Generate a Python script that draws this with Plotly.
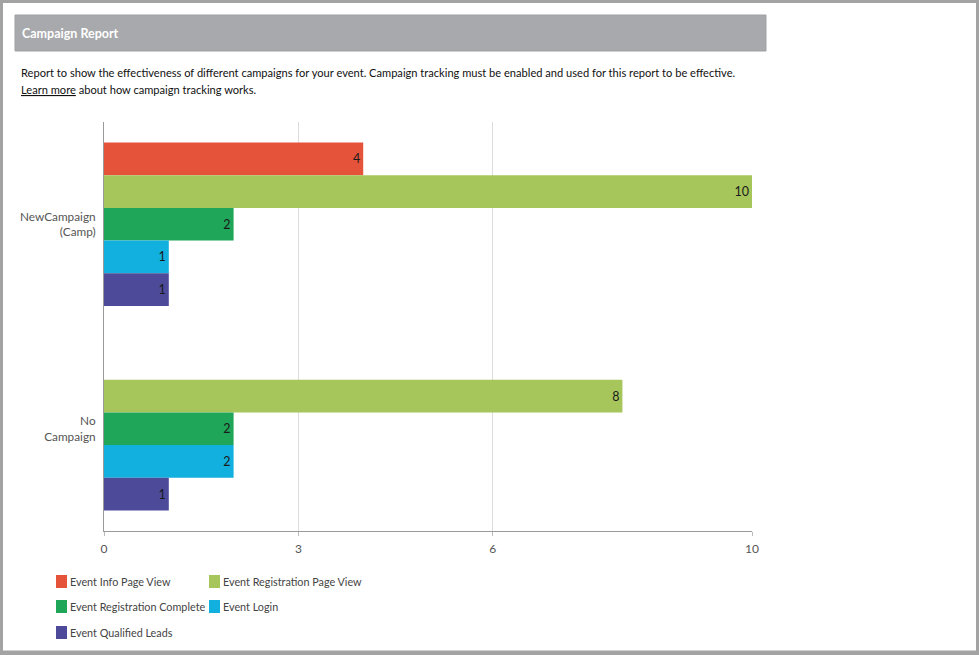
import plotly.graph_objects as go

W, H = 979, 655
L, R, T, B = 104, 752, 122, 531  # plot area in px

categories = ["NewCampaign<br>(Camp)", "No<br>Campaign"]
series_names = ["Event Info Page View", "Event Registration Page View",
                "Event Registration Complete", "Event Login", "Event Qualified Leads"]
info_page_view = [4, None]
reg_page_view = [10, 8]
reg_complete = [2, 2]
event_login = [1, 2]
qualified_leads = [1, 1]
series_values = [info_page_view, reg_page_view, reg_complete, event_login, qualified_leads]
colors = ["#e5533a", "#a6c65b", "#1fa659", "#12b0de", "#4c4a99"]
x_ticks = [0, 3, 6, 10]

FONT = "Lato, Open Sans, sans-serif"


def px(x):
    return (x - L) / (R - L)


def py(y):
    return 1 - (y - T) / (B - T)


fig = go.Figure()
for name, vals, col in zip(series_names, series_values, colors):
    fig.add_trace(go.Bar(
        y=categories, x=vals, name=name, orientation="h",
        marker=dict(color=col, line=dict(width=0)),
        text=[("" if v is None else str(v)) for v in vals],
        textposition="inside", insidetextanchor="end",
        textfont=dict(color="#1a1a1a", size=12.5, family=FONT),
        textangle=0, showlegend=False, cliponaxis=False,
    ))

shapes = []
annotations = []

# outer frame
shapes.append(dict(type="rect", xref="paper", yref="paper",
                   x0=px(1.5), x1=px(W - 1.5), y0=py(1.5), y1=py(H - 2.5),
                   line=dict(color="#a3a3a3", width=3), fillcolor="rgba(0,0,0,0)", layer="above"))
shapes.append(dict(type="line", xref="paper", yref="paper",
                   x0=px(0), x1=px(W), y0=py(H - 2), y1=py(H - 2),
                   line=dict(color="#a3a3a3", width=5)))
# banner
shapes.append(dict(type="rect", xref="paper", yref="paper",
                   x0=px(15), x1=px(766), y0=py(15), y1=py(51),
                   line=dict(color="#9fa1a4", width=1), fillcolor="#a7a9ac", layer="below"))
annotations.append(dict(xref="paper", yref="paper", x=px(20), y=py(33),
                        xanchor="left", yanchor="middle", showarrow=False,
                        text="<b>Campaign Report</b>",
                        font=dict(family=FONT, size=12.5, color="white")))
annotations.append(dict(xref="paper", yref="paper", x=px(19), y=py(72),
                        xanchor="left", yanchor="middle", showarrow=False,
                        text="Report to show the effectiveness of different campaigns for your event. "
                             "Campaign tracking must be enabled and used for this report to be effective.",
                        font=dict(family=FONT, size=11.1, color="#111")))
annotations.append(dict(xref="paper", yref="paper", x=px(19), y=py(89),
                        xanchor="left", yanchor="middle", showarrow=False,
                        text="<u>Learn more</u> about how campaign tracking works.",
                        font=dict(family=FONT, size=11.1, color="#111")))

# legend (custom layout)
legend_pos = [(56, 581), (209, 581), (56, 606), (209, 606), (56, 632)]
for name, col, (lx, ly) in zip(series_names, colors, legend_pos):
    shapes.append(dict(type="rect", xref="paper", yref="paper",
                       x0=px(lx), x1=px(lx + 11), y0=py(ly - 6), y1=py(ly + 7),
                       line=dict(width=0), fillcolor=col))
    annotations.append(dict(xref="paper", yref="paper", x=px(lx + 12), y=py(ly),
                            xanchor="left", yanchor="middle", showarrow=False,
                            text=name, font=dict(family=FONT, size=10.8, color="#444")))

fig.update_layout(
    width=W, height=H,
    margin=dict(l=L, r=W - R, t=T, b=H - B, pad=0),
    paper_bgcolor="white", plot_bgcolor="white",
    barmode="group", bargap=0.2, bargroupgap=0,
    font=dict(family=FONT, size=11, color="#555"),
    shapes=shapes, annotations=annotations,
    xaxis=dict(range=[0, 10], tickvals=x_ticks, showgrid=True, gridcolor="#dcdcdc",
               gridwidth=1, zeroline=False, showline=True, linecolor="#9a9a9a",
               linewidth=1, ticks="outside", ticklen=4, tickcolor="#bbbbbb",
               ticklabelstandoff=3,
               tickfont=dict(size=12, color="#555"), fixedrange=True, automargin=False),
    yaxis=dict(type="category", range=[1.5, -0.5], showgrid=False, zeroline=False,
               showline=True, linecolor="#9a9a9a", linewidth=1, ticks="",
               ticklabelstandoff=5, automargin=False,
               tickfont=dict(size=11.8, color="#555"), fixedrange=True),
    showlegend=False,
)

fig.write_html("out.html", config={"displayModeBar": False},
               post_script="document.body.style.margin='0';document.body.style.overflow='hidden';")
